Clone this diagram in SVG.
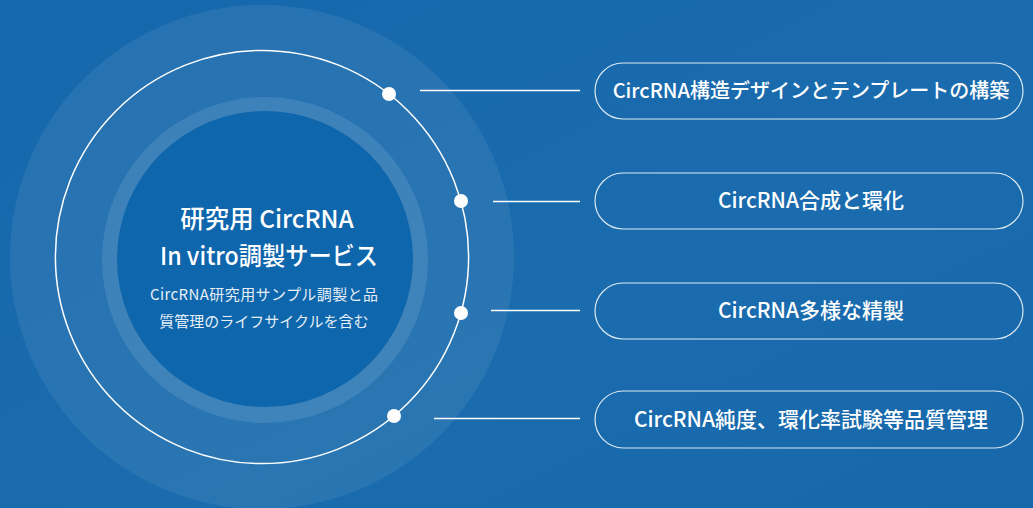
<svg xmlns="http://www.w3.org/2000/svg" width="1033" height="508" viewBox="0 0 1033 508">
<defs>
<linearGradient id="bg" x1="0" y1="0" x2="1" y2="1">
<stop offset="0" stop-color="#1668ad"/>
<stop offset="0.6" stop-color="#1a6cae"/>
<stop offset="1" stop-color="#1668aa"/>
</linearGradient>
</defs>
<style>
.pill{fill:none;stroke:#ffffff;stroke-width:1.2;stroke-opacity:0.85}
.conn{stroke:#ffffff;stroke-width:1.3}
.dot{fill:#ffffff}
.lbl{font-family:"Noto Sans CJK JP","Noto Sans",sans-serif;font-size:21px;font-weight:500;fill:#ffffff;text-anchor:middle}
.title{font-family:"Noto Sans CJK JP","Noto Sans",sans-serif;font-size:24.5px;font-weight:500;fill:#ffffff;text-anchor:middle}
.sub{font-family:"Noto Sans CJK JP","Noto Sans",sans-serif;font-size:15px;font-weight:400;fill:#e6eef7;text-anchor:middle}
</style>
<rect width="1033" height="508" fill="url(#bg)"/>
<g id="hub">
<circle cx="262" cy="257" r="252" fill="#ffffff" fill-opacity="0.07"/>
<circle cx="262" cy="257" r="206.6" fill="none" stroke="#ffffff" stroke-width="1.5"/>
<circle cx="265" cy="260" r="163" fill="#ffffff" fill-opacity="0.1"/>
<circle cx="265" cy="259" r="148" fill="#0e66ac"/>
<text class="title" x="267" y="228">研究用 CircRNA</text>
<text class="title" x="269" y="265" textLength="218" lengthAdjust="spacingAndGlyphs">In vitro調製サービス</text>
<text class="sub" x="264" y="300" textLength="228" lengthAdjust="spacing">CircRNA研究用サンプル調製と品</text>
<text class="sub" x="264" y="327">質管理のライフサイクルを含む</text>
</g>
<g id="connectors">
<line class="conn" x1="420" y1="90.5" x2="580" y2="90.5"/>
<line class="conn" x1="493" y1="201.5" x2="580" y2="201.5"/>
<line class="conn" x1="491" y1="310.5" x2="580" y2="310.5"/>
<line class="conn" x1="434" y1="418.5" x2="580" y2="418.5"/>
<circle class="dot" cx="389" cy="94" r="7"/>
<circle class="dot" cx="461" cy="201" r="7"/>
<circle class="dot" cx="461" cy="313" r="7"/>
<circle class="dot" cx="394" cy="416" r="7"/>
</g>
<g id="node1">
<rect class="pill" x="595" y="63" width="428" height="56" rx="28"/>
<text class="lbl" x="811" y="98" style="font-size:20px">CircRNA構造デザインとテンプレートの構築</text>
</g>
<g id="node2">
<rect class="pill" x="595" y="173" width="428" height="56" rx="28"/>
<text class="lbl" x="811" y="208">CircRNA合成と環化</text>
</g>
<g id="node3">
<rect class="pill" x="595" y="283" width="428" height="56" rx="28"/>
<text class="lbl" x="811" y="318">CircRNA多様な精製</text>
</g>
<g id="node4">
<rect class="pill" x="595" y="391" width="428" height="57" rx="28.5"/>
<text class="lbl" x="811" y="427">CircRNA純度、環化率試験等品質管理</text>
</g>
</svg>
